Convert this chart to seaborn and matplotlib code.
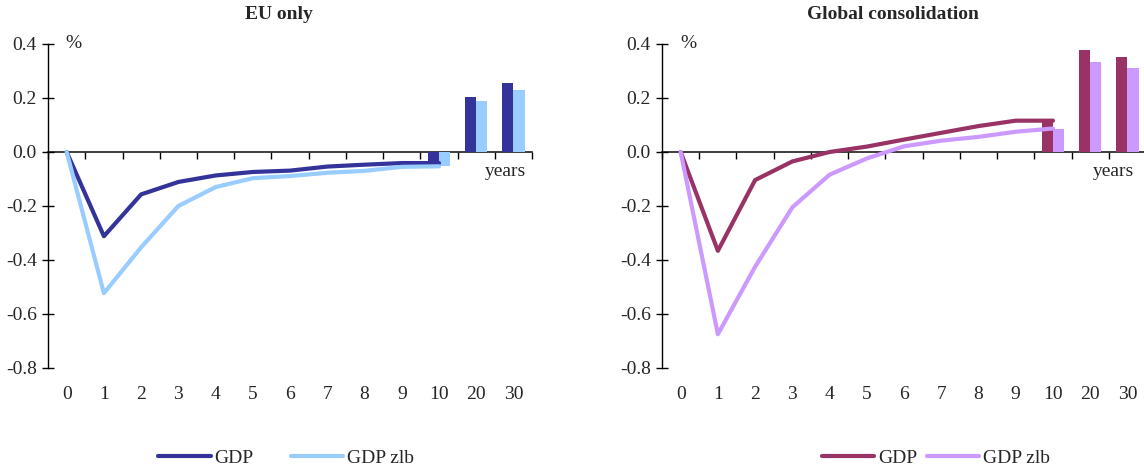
import matplotlib
matplotlib.use("Agg")
import matplotlib.pyplot as plt
from matplotlib.lines import Line2D
import seaborn as sns
import pandas as pd

# Categories on the horizontal axis
categories = ["0", "1", "2", "3", "4", "5", "6", "7", "8", "9", "10", "20", "30"]
line_years = ["0", "1", "2", "3", "4", "5", "6", "7", "8", "9", "10"]
bar_years = ["10", "20", "30"]

# EU only
eu_gdp = [0.0, -0.312, -0.157, -0.111, -0.087, -0.074, -0.069, -0.054, -0.047, -0.041, -0.041]
eu_zlb = [0.0, -0.523, -0.353, -0.200, -0.130, -0.097, -0.089, -0.077, -0.070, -0.055, -0.053]
eu_gdp_bars = [-0.041, 0.205, 0.255]
eu_zlb_bars = [-0.053, 0.188, 0.228]

# Global consolidation
gl_gdp = [0.0, -0.366, -0.104, -0.035, 0.0, 0.020, 0.046, 0.071, 0.096, 0.116, 0.116]
gl_zlb = [0.0, -0.675, -0.425, -0.205, -0.084, -0.024, 0.021, 0.042, 0.056, 0.075, 0.087]
gl_gdp_bars = [0.116, 0.378, 0.351]
gl_zlb_bars = [0.087, 0.332, 0.310]

y_ticks = [-0.8, -0.6, -0.4, -0.2, 0.0, 0.2, 0.4]
y_labels = ["-0.8", "-0.6", "-0.4", "-0.2", "0.0", "0.2", "0.4"]

series_names = ["GDP", "GDP zlb"]

sns.set_theme(style="white")
plt.rcParams["font.family"] = ["Liberation Serif", "DejaVu Serif"]
plt.rcParams["axes.unicode_minus"] = False

fig = plt.figure(figsize=(11.44, 4.68), dpi=100)
ax_l = fig.add_axes([0.042, 0.2137, 0.4231, 0.6923])
ax_r = fig.add_axes([0.5787, 0.2137, 0.4231, 0.6923])

FS = 14


def draw_panel(ax, title, gdp, zlb, gdp_bars, zlb_bars, colors, pct_x, years_x):
    bars = pd.DataFrame({
        "year": bar_years * 2,
        "value": gdp_bars + zlb_bars,
        "series": [series_names[0]] * len(bar_years) + [series_names[1]] * len(bar_years),
    })
    sns.barplot(data=bars, x="year", y="value", hue="series", order=categories,
                hue_order=series_names, palette=colors, width=0.6, dodge=True,
                saturation=1, legend=False, ax=ax, linewidth=0)

    lines = pd.DataFrame({
        "pos": list(range(len(line_years))) * 2,
        "value": gdp + zlb,
        "series": [series_names[0]] * len(line_years) + [series_names[1]] * len(line_years),
    })
    sns.lineplot(data=lines, x="pos", y="value", hue="series", hue_order=series_names,
                 palette=colors, linewidth=3, legend=False, ax=ax, sort=False)

    ymin, ymax = -0.8, 0.4
    ax.set_ylim(ymin, ymax)
    ax.set_xlim(-0.5, len(categories) - 0.5)
    ax.set_xlabel("")
    ax.set_ylabel("")

    ax.set_yticks(y_ticks)
    ax.set_yticklabels(y_labels, fontsize=FS)
    ax.tick_params(axis="y", direction="inout", length=8, width=1, color="black",
                   pad=4, left=True)

    ax.set_xticks(range(len(categories)))
    ax.set_xticklabels(categories, fontsize=FS)
    ax.tick_params(axis="x", length=0, pad=13)

    for side in ["top", "right", "bottom"]:
        ax.spines[side].set_visible(False)
    ax.spines["left"].set_color("black")
    ax.spines["left"].set_linewidth(1)

    # zero line carrying the category separators
    zero_frac = (0 - ymin) / (ymax - ymin)
    sec = ax.secondary_xaxis(zero_frac)
    sec.set_xticks([i - 0.5 for i in range(len(categories) + 1)])
    sec.set_xticklabels([])
    sec.tick_params(direction="in", length=5, width=1, color="black")
    sec.spines["bottom"].set_color("black")
    sec.spines["bottom"].set_linewidth(1.2)

    ax.set_title(title, fontsize=FS, fontweight="bold", pad=18, x=0.477)
    ax.text(pct_x, 1.0, "%", transform=ax.transAxes, fontsize=FS, ha="center", va="center")
    ax.text(years_x, 0.605, "years", transform=ax.transAxes, fontsize=FS,
            ha="center", va="center")


eu_colors = ["#333399", "#99CCFF"]
gl_colors = ["#993366", "#CC99FF"]

draw_panel(ax_l, "EU only", eu_gdp, eu_zlb, eu_gdp_bars, eu_zlb_bars, eu_colors, 0.052, 0.944)
draw_panel(ax_r, "Global consolidation", gl_gdp, gl_zlb, gl_gdp_bars, gl_zlb_bars, gl_colors, 0.054, 0.932)


def add_legend(colors, center_x, colspace):
    handles = [Line2D([], [], color=c, linewidth=3) for c in colors]
    fig.legend(handles, series_names, loc="center", bbox_to_anchor=(center_x, 1 - 458 / 468),
               ncol=2, frameon=False, fontsize=FS, handlelength=2.7, handletextpad=0.2,
               columnspacing=colspace, borderpad=0, borderaxespad=0)


add_legend(eu_colors, 286 / 1144, 1.9)
add_legend(gl_colors, 936 / 1144, 0.5)

fig.savefig("out.png", dpi=100, facecolor="white")
